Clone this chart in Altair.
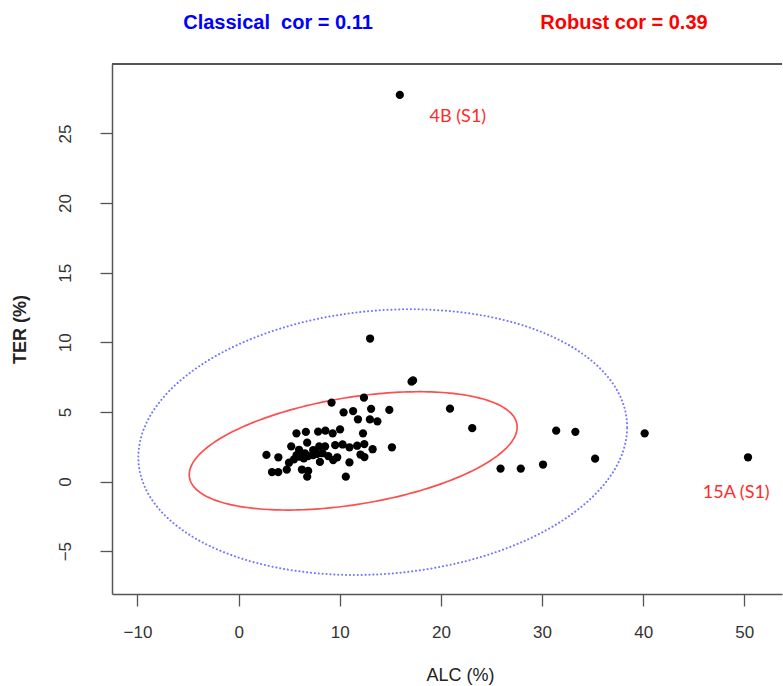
import altair as alt
import numpy as np
import pandas as pd

# ---- scatter points (ALC %, TER %) ----
alc = [15.94, 50.37, 13.0, 17.1, 17.25, 20.9, 23.1, 31.4, 33.3, 40.15, 35.25, 25.9, 27.9, 30.1,
       9.19, 12.39, 10.38, 11.32, 13.1, 14.9, 11.8, 12.98, 13.72,
       5.72, 6.65, 7.86, 8.58, 9.3, 10.03, 12.3,
       5.2, 6.78, 5.97, 7.97, 8.55, 9.55, 10.28, 10.96, 11.72, 12.43, 13.25, 15.16,
       2.75, 3.93, 4.98, 8.04, 10.96, 12.05, 12.44,
       3.3, 3.92, 4.76, 6.26, 6.88, 6.78, 10.6,
       5.73, 6.06, 6.45, 6.88, 7.37, 7.77, 8.3, 8.86, 9.75, 7.37, 6.55, 9.35, 5.47]
ter = [27.77, 1.74, 10.27, 7.17, 7.26, 5.23, 3.83, 3.65, 3.57, 3.46, 1.64, 0.93, 0.93, 1.22,
       5.67, 6.02, 4.97, 5.06, 5.22, 5.14, 4.47, 4.46, 4.32,
       3.46, 3.56, 3.58, 3.66, 3.46, 3.75, 3.46,
       2.53, 2.79, 2.28, 2.52, 2.52, 2.61, 2.66, 2.46, 2.57, 2.69, 2.32, 2.46,
       1.91, 1.74, 1.35, 1.41, 1.37, 1.94, 1.76,
       0.68, 0.68, 0.85, 0.86, 0.76, 0.35, 0.35,
       1.90, 1.78, 1.67, 1.83, 1.90, 1.98, 2.03, 1.83, 1.74, 2.26, 2.03, 1.54, 1.59]

# ---- tolerance ellipses: centre and shape matrix ----
classical_center = [14.25, 2.83]
classical_shape = [[584.0, 26.1], [26.1, 91.1]]    # cor ~ 0.11
robust_center = [11.33, 2.20]
robust_shape = [[262.8, 27.7], [27.7, 18.06]]      # cor ~ 0.39

# ---- annotations ----
ann_text = ["4B (S1)", "15A (S1)"]
ann_x = [21.68, 49.2]
ann_y = [26.19, -0.8]

x_ticks = [-10, 0, 10, 20, 30, 40, 50]
y_ticks = [-5, 0, 5, 10, 15, 20, 25]

W, H = 670, 530


def ellipse_outline(center, shape, n=240):
    L = np.linalg.cholesky(np.array(shape))
    t = np.linspace(0, 2 * np.pi, n + 1)
    circ = np.vstack([np.cos(t), np.sin(t)])
    pts = (L @ circ).T + np.array(center)
    return pd.DataFrame({"ALC": pts[:, 0], "TER": pts[:, 1], "i": np.arange(n + 1)})


pts = pd.DataFrame({"ALC": alc, "TER": ter})
blue = ellipse_outline(classical_center, classical_shape)
red = ellipse_outline(robust_center, robust_shape)
ann = pd.DataFrame({"ALC": ann_x, "TER": ann_y, "label": ann_text})

xs = alt.Scale(domain=[-12.52, 53.73], nice=False, zero=False)
ys = alt.Scale(domain=[-8.08, 29.99], nice=False, zero=False)

x_axis = alt.Axis(values=x_ticks, grid=False, tickSize=12, tickColor="#555555", tickWidth=1.3,
                  domainColor="#555555", domainWidth=1.5,
                  labelFont="Liberation Sans", labelFontSize=17, labelColor="#333333",
                  labelPadding=18, labelFlush=False,
                  title="ALC (%)", titleFont="Liberation Sans", titleFontSize=18,
                  titleFontWeight="normal", titleColor="#222222",
                  titleX=348, titleY=86, titleBaseline="alphabetic", titleAnchor="start",
                  titleAlign="center")
y_axis = alt.Axis(values=y_ticks, grid=False, tickSize=12, tickColor="#555555", tickWidth=1.3,
                  domainColor="#555555", domainWidth=1.5,
                  labelFont="Liberation Sans", labelFontSize=17, labelColor="#333333",
                  labelAngle=270, labelAlign="center", labelBaseline="alphabetic",
                  labelPadding=30, labelFlush=False,
                  title="TER (%)", titleFont="Liberation Sans", titleFontSize=18,
                  titleFontWeight="bold", titleColor="#222222", titleAngle=270,
                  titleX=-92, titleBaseline="middle")

X = alt.X("ALC:Q", scale=xs, axis=x_axis)
Y = alt.Y("TER:Q", scale=ys, axis=y_axis)

blue_line = alt.Chart(blue).mark_line(
    color="#7474ff", strokeWidth=2, strokeDash=[0.1, 3.8], strokeCap="round", clip=True
).encode(x=X, y=Y, order=alt.Order("i:Q"))

red_line = alt.Chart(red).mark_line(
    color="#ff4d4d", strokeWidth=1.7
).encode(x=X, y=Y, order=alt.Order("i:Q"))

dots = alt.Chart(pts).mark_circle(size=68, color="black", opacity=1).encode(x=X, y=Y)

labels = alt.Chart(ann).mark_text(
    font="Lato", fontSize=18, color="#ff2a2a", align="center", baseline="middle"
).encode(x=X, y=Y, text="label:N")

top_border = alt.Chart(pts).mark_rule(color="#555555", strokeWidth=1.5).encode(
    x=alt.value(0), x2=alt.value(W), y=alt.value(0))

t1 = alt.Chart(pd.DataFrame({"t": ["Classical\u00a0\u00a0cor = 0.11"]})).mark_text(
    font="Liberation Sans", fontSize=20, fontWeight="bold", color="#0000ff",
    align="center", baseline="middle"
).encode(x=alt.value(166), y=alt.value(-41), text="t:N")
t2 = alt.Chart(pd.DataFrame({"t": ["Robust cor = 0.39"]})).mark_text(
    font="Liberation Sans", fontSize=20, fontWeight="bold", color="#ff0000",
    align="center", baseline="middle"
).encode(x=alt.value(512), y=alt.value(-41), text="t:N")

chart = alt.layer(blue_line, red_line, dots, labels, top_border, t1, t2).properties(
    width=W, height=H,
    autosize=alt.AutoSizeParams(type="none"),
    padding={"left": 112, "top": 64, "right": 1, "bottom": 92},
    background="white",
).configure_view(stroke=None)

chart.save("out.html", embed_options={"renderer": "svg", "actions": False})
